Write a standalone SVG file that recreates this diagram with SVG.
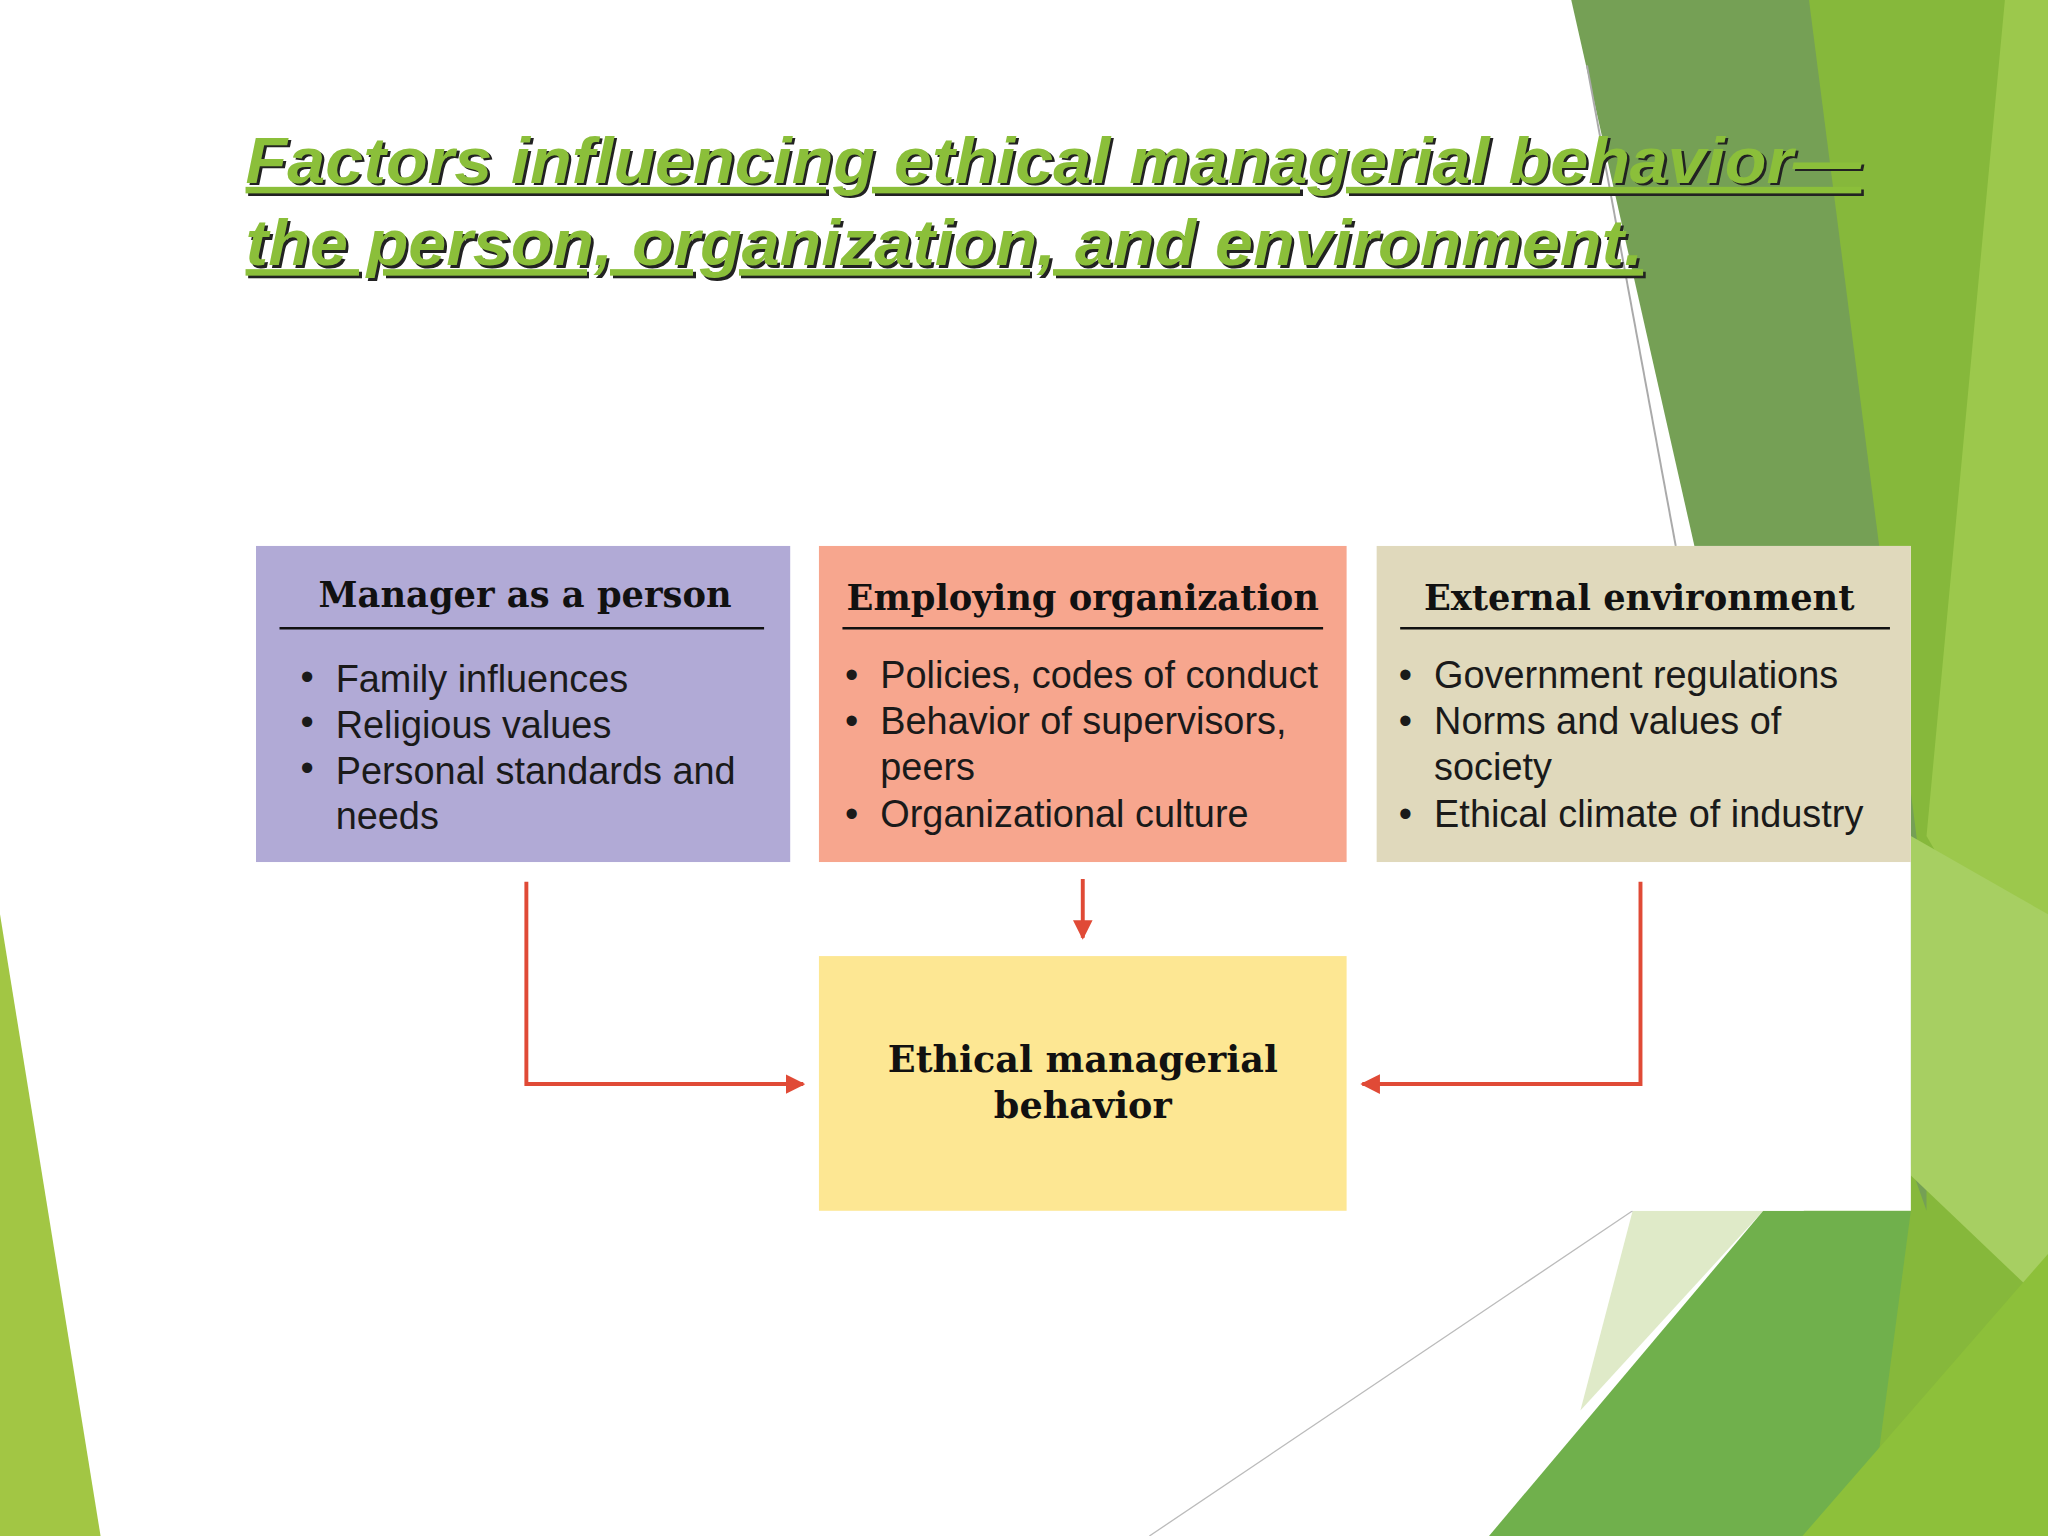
<svg xmlns="http://www.w3.org/2000/svg" width="2048" height="1536" viewBox="0 0 2048 1536">
<defs>
<style>
.h{font-family:"DejaVu Serif","Liberation Serif",serif;font-weight:bold;font-size:27px;fill:#111;text-anchor:middle}
.b{font-family:"Liberation Sans",Arial,sans-serif;font-size:29px;fill:#1a1a1a}
.t{font-family:"Liberation Sans",Arial,sans-serif;font-weight:bold;font-style:italic;font-size:50px;text-decoration:underline}
.ar{stroke:#e04a36;stroke-width:3;fill:none}
</style>
<marker id="ah" viewBox="0 0 10 10" refX="9" refY="5" markerWidth="5" markerHeight="5" orient="auto"><path d="M0,0L10,5L0,10z" fill="#e04a36"/></marker>
</defs>
<rect width="2048" height="1536" fill="#fff"/>
<g transform="scale(1.30612)">
<g id="background">
<polygon points="0,700 77,1176 0,1176" fill="#a2c644"/>
<polygon points="1385,0 1568,0 1568,1176 1380,1176" fill="#86b83b"/>
<polygon points="1535,0 1568,0 1568,800 1475,640" fill="#9cc84c"/>
<polygon points="1203,0 1385,0 1475,700 1475,927 1300,430" fill="#75a055"/>
<line x1="1215" y1="50" x2="1283" y2="418" stroke="#aaa" stroke-width="1.5"/>
<polygon points="1463,640 1568,700 1568,1000 1463,900" fill="#a7cf62"/>
<polygon points="1250,927 1350,927 1210,1080" fill="#dfeac8"/>
<polygon points="1350,927 1463,927 1430,1176 1140,1176" fill="#70b04c"/>
<polygon points="1380,1176 1568,960 1568,1176" fill="#8dc03a"/>
<line x1="880" y1="1176" x2="1250" y2="927" stroke="#bbb" stroke-width="1"/>
<rect x="196" y="418" width="1267" height="509" fill="#fff"/>
</g>
<g id="title">
<text class="t" x="190" y="142" fill="#222" textLength="1237" lengthAdjust="spacingAndGlyphs">Factors influencing ethical managerial behavior—</text>
<text class="t" x="188" y="140" fill="#8bbf3a" textLength="1237" lengthAdjust="spacingAndGlyphs">Factors influencing ethical managerial behavior—</text>
<text class="t" x="190" y="205" fill="#222" textLength="1070" lengthAdjust="spacingAndGlyphs">the person, organization, and environment.</text>
<text class="t" x="188" y="203" fill="#8bbf3a" textLength="1070" lengthAdjust="spacingAndGlyphs">the person, organization, and environment.</text>
</g>
<g id="person">
<rect x="196" y="418" width="409" height="242" fill="#b1aad6"/>
<text class="h" x="402" y="465">Manager as a person</text>
<line x1="214" y1="481" x2="585" y2="481" stroke="#111" stroke-width="2"/>
<text class="b" x="230" y="528">•</text><text class="b" x="257" y="530">Family influences</text>
<text class="b" x="230" y="563">•</text><text class="b" x="257" y="565">Religious values</text>
<text class="b" x="230" y="598">•</text><text class="b" x="257" y="600">Personal standards and</text>
<text class="b" x="257" y="635">needs</text>
</g>
<g id="organization">
<rect x="627" y="418" width="404" height="242" fill="#f7a68e"/>
<text class="h" x="829" y="467">Employing organization</text>
<line x1="645" y1="481" x2="1013" y2="481" stroke="#111" stroke-width="2"/>
<text class="b" x="647" y="527">•</text><text class="b" x="674" y="527">Policies, codes of conduct</text>
<text class="b" x="647" y="562">•</text><text class="b" x="674" y="562">Behavior of supervisors,</text>
<text class="b" x="674" y="597">peers</text>
<text class="b" x="647" y="633">•</text><text class="b" x="674" y="633">Organizational culture</text>
</g>
<g id="environment">
<rect x="1054" y="418" width="409" height="242" fill="#e0d9bc"/>
<text class="h" x="1255" y="467">External environment</text>
<line x1="1072" y1="481" x2="1447" y2="481" stroke="#111" stroke-width="2"/>
<text class="b" x="1071" y="527">•</text><text class="b" x="1098" y="527">Government regulations</text>
<text class="b" x="1071" y="562">•</text><text class="b" x="1098" y="562">Norms and values of</text>
<text class="b" x="1098" y="597">society</text>
<text class="b" x="1071" y="633">•</text><text class="b" x="1098" y="633">Ethical climate of industry</text>
</g>
<g id="behavior">
<rect x="627" y="732" width="404" height="195" fill="#fde793"/>
<text class="h" x="829" y="821" style="font-size:28px">Ethical managerial</text>
<text class="h" x="829" y="856" style="font-size:28px">behavior</text>
</g>
<g id="connectors">
<polyline class="ar" points="403,675 403,830 615,830" marker-end="url(#ah)"/>
<polyline class="ar" points="829,673 829,718" marker-end="url(#ah)"/>
<polyline class="ar" points="1256,675 1256,830 1043,830" marker-end="url(#ah)"/>
</g>
</g>
</svg>
